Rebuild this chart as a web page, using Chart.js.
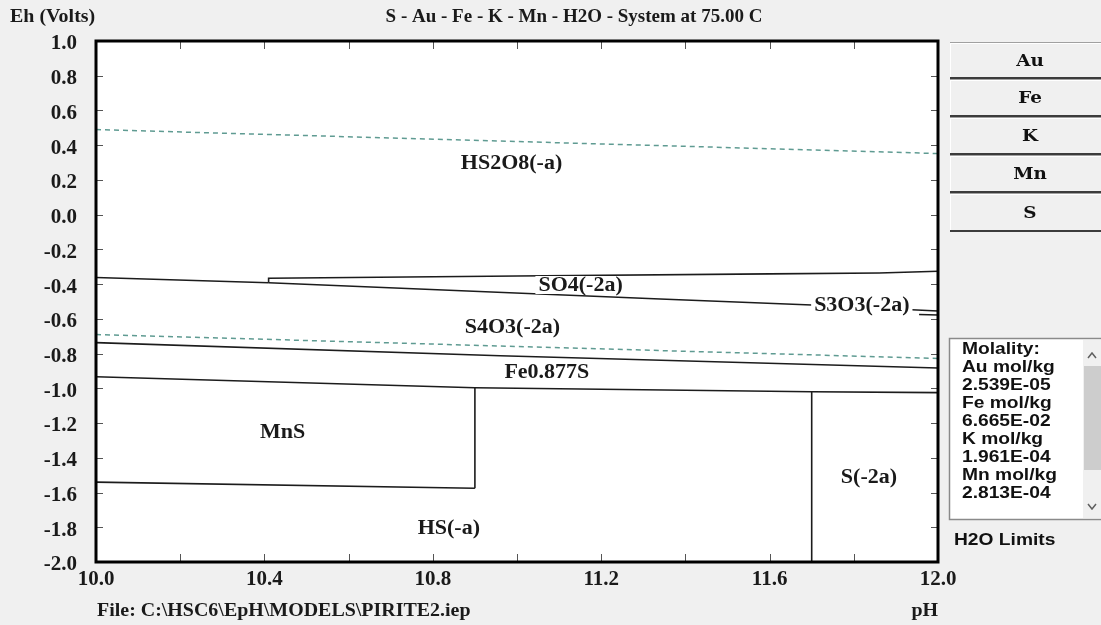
<!DOCTYPE html>
<html>
<head>
<meta charset="utf-8">
<title>S - Au - Fe - K - Mn - H2O - System at 75.00 C</title>
<script src="https://cdn.jsdelivr.net/npm/chart.js@4.4.1/dist/chart.umd.min.js"></script>
<style>
  html, body { margin: 0; padding: 0; background: #f0f0f0; }
  canvas { display: block; }
</style>
</head>
<body>
<canvas id="eph" width="1101" height="625"></canvas>
<script>
// ---- Diagram values (pH on x, Eh in volts on y) ----
const phMin = 10.0, phMax = 12.0;
const ehMin = -2.0, ehMax = 1.0;

// Water stability limits (dashed)
const waterUpperPH = [10.0, 12.0];
const waterUpperEh = [0.490, 0.352];
const waterLowerPH = [10.0, 12.0];
const waterLowerEh = [-0.690, -0.828];

// Predominance boundaries
const hs2o8LowerPH = [10.0, 10.41];
const hs2o8LowerEh = [-0.362, -0.392];
const so4UpperPH = [10.41, 10.41, 11.0, 11.6, 11.86, 12.0];
const so4UpperEh = [-0.392, -0.366, -0.353, -0.341, -0.336, -0.326];
const so4LowerPH = [10.41, 11.34, 11.70, 12.0];
const so4LowerEh = [-0.392, -0.486, -0.520, -0.555];
const s3o3LowerPH = [11.955, 12.0];
const s3o3LowerEh = [-0.575, -0.578];
const s4o3LowerPH = [10.0, 10.96, 12.0];
const s4o3LowerEh = [-0.737, -0.812, -0.883];
const fesLowerPH = [10.0, 10.9, 11.7, 12.0];
const fesLowerEh = [-0.933, -0.997, -1.020, -1.025];
const mnsRightPH = [10.9, 10.9];
const mnsRightEh = [-0.997, -1.575];
const mnsLowerPH = [10.0, 10.9];
const mnsLowerEh = [-1.540, -1.575];
const s2LeftPH = [11.7, 11.7];
const s2LeftEh = [-1.020, -2.0];

// Region labels
const regionNames = ['HS2O8(-a)', 'SO4(-2a)', 'S3O3(-2a)', 'S4O3(-2a)', 'Fe0.877S', 'MnS', 'HS(-a)', 'S(-2a)'];
const regionPH    = [10.987, 11.151, 11.819, 10.989, 11.071, 10.443, 10.838, 11.836];
const regionEh    = [0.300, -0.405, -0.520, -0.645, -0.906, -1.250, -1.806, -1.512];

// Side panel contents
const elementButtons = ['Au', 'Fe', 'K', 'Mn', 'S'];
const molalityLines = ['Molality:', 'Au mol/kg', '2.539E-05', 'Fe mol/kg', '6.665E-02',
                       'K mol/kg', '1.961E-04', 'Mn mol/kg', '2.813E-04'];

const titleText = 'S - Au - Fe - K - Mn - H2O - System at 75.00 C';
const yAxisTitle = 'Eh (Volts)';
const xAxisTitle = 'pH';
const fileText = 'File: C:\\HSC6\\EpH\\MODELS\\PIRITE2.iep';

// ---- helpers ----
const SERIF = "'Liberation Serif', 'Times New Roman', serif";
const SANS = "'Liberation Sans', Arial, sans-serif";

function pts(ph, eh) {
  return ph.map((x, i) => ({ x: x, y: eh[i] }));
}

function boundary(ph, eh) {
  return {
    data: pts(ph, eh), showLine: true, fill: false,
    borderColor: '#1c1c1c', borderWidth: 1.6, pointRadius: 0, tension: 0
  };
}

function waterLine(ph, eh) {
  return {
    data: pts(ph, eh), showLine: true, fill: false,
    borderColor: '#5f9b92', borderWidth: 1.5, borderDash: [5, 4], pointRadius: 0, tension: 0
  };
}

function wideText(ctx, text, x, y, sx, align) {
  ctx.save();
  ctx.translate(x, y);
  ctx.scale(sx, 1);
  ctx.textAlign = align;
  ctx.fillText(text, 0, 0);
  ctx.restore();
}

// Paints the window background and the white plotting field
const backdrop = {
  id: 'backdrop',
  beforeDraw(chart) {
    const { ctx, chartArea: a } = chart;
    ctx.save();
    ctx.fillStyle = '#f0f0f0';
    ctx.fillRect(0, 0, chart.width, chart.height);
    ctx.fillStyle = '#ffffff';
    ctx.fillRect(a.left, a.top, a.right - a.left, a.bottom - a.top);
    ctx.restore();
  }
};

// Region names on white knock-out boxes, then inward ticks and the frame
const decorations = {
  id: 'decorations',
  afterDatasetsDraw(chart) {
    const { ctx, chartArea: a, scales: { x, y } } = chart;
    ctx.save();
    ctx.font = 'bold 20px ' + SERIF;
    ctx.textBaseline = 'middle';
    const sx = 1.1;
    regionNames.forEach((name, i) => {
      const px = x.getPixelForValue(regionPH[i]);
      const py = y.getPixelForValue(regionEh[i]);
      const w = ctx.measureText(name).width * sx;
      ctx.fillStyle = '#ffffff';
      ctx.fillRect(px - w / 2 - 3, py - 9, w + 6, 18);
      ctx.fillStyle = '#1a1a1a';
      wideText(ctx, name, px, py + 1, sx, 'center');
    });

    // inward tick marks every 0.2 on all four sides
    ctx.strokeStyle = '#555555';
    ctx.lineWidth = 1;
    x.ticks.forEach(t => {
      const px = Math.round(x.getPixelForValue(t.value)) + 0.5;
      ctx.beginPath();
      ctx.moveTo(px, a.top); ctx.lineTo(px, a.top + 8);
      ctx.moveTo(px, a.bottom); ctx.lineTo(px, a.bottom - 8);
      ctx.stroke();
    });
    y.ticks.forEach(t => {
      const py = Math.round(y.getPixelForValue(t.value)) + 0.5;
      ctx.beginPath();
      ctx.moveTo(a.left, py); ctx.lineTo(a.left + 7, py);
      ctx.moveTo(a.right, py); ctx.lineTo(a.right - 7, py);
      ctx.stroke();
    });

    ctx.strokeStyle = '#000000';
    ctx.lineWidth = 3;
    ctx.strokeRect(a.left, a.top, a.right - a.left, a.bottom - a.top);
    ctx.restore();
  }
};

// Titles, file name and the element / molality side panel
const surroundings = {
  id: 'surroundings',
  afterDraw(chart) {
    const { ctx, chartArea: a } = chart;
    ctx.save();
    ctx.fillStyle = '#1a1a1a';
    ctx.textBaseline = 'middle';
    ctx.font = 'bold 19px ' + SERIF;
    wideText(ctx, yAxisTitle, 10, 17, 1.05, 'left');
    wideText(ctx, titleText, 574, 17, 1.0, 'center');
    wideText(ctx, fileText, 97, 611, 1.05, 'left');
    wideText(ctx, xAxisTitle, a.right, 611, 1.05, 'right');

    // element buttons
    const bx = 950, bw = chart.width - bx;
    const edges = [42, 79, 117, 155, 193, 232];
    for (let i = 0; i < elementButtons.length; i++) {
      const top = edges[i], bot = edges[i + 1];
      ctx.fillStyle = '#f0f0f0';
      ctx.fillRect(bx, top, bw, bot - top);
      ctx.fillStyle = '#ffffff';
      ctx.fillRect(bx, top + 1, bw, 1);
      ctx.fillRect(bx, top + 1, 1, bot - top - 2);
      ctx.fillStyle = '#a0a0a0';
      ctx.fillRect(bx, top, bw, 1);
      ctx.fillStyle = '#3c3c3c';
      ctx.fillRect(bx, bot - 2, bw, 2);
      ctx.fillStyle = '#111111';
      ctx.font = 'bold 17px ' + "'DejaVu Serif', serif";
      wideText(ctx, elementButtons[i], 1030, (top + bot) / 2 + 1, 1.08, 'center');
    }

    // molality list box with scroll bar
    const lx = 949, ly = 338, lw = chart.width - lx, lh = 182;
    ctx.fillStyle = '#ffffff';
    ctx.fillRect(lx, ly, lw, lh);
    ctx.strokeStyle = '#8a8a8a';
    ctx.lineWidth = 1.5;
    ctx.strokeRect(lx + 0.5, ly + 0.5, lw + 4, lh - 1);
    ctx.fillStyle = '#f0f0f0';
    ctx.fillRect(1083, ly + 2, 18, lh - 4);
    ctx.fillStyle = '#cdcdcd';
    ctx.fillRect(1084, 366, 17, 104);
    ctx.strokeStyle = '#606060';
    ctx.lineWidth = 1.5;
    ctx.beginPath();
    ctx.moveTo(1088, 358); ctx.lineTo(1092, 353); ctx.lineTo(1096, 358);
    ctx.moveTo(1088, 504); ctx.lineTo(1092, 509); ctx.lineTo(1096, 504);
    ctx.stroke();

    ctx.fillStyle = '#111111';
    ctx.font = 'bold 16px ' + SANS;
    molalityLines.forEach((line, i) => {
      wideText(ctx, line, 962, 350 + i * 18, 1.2, 'left');
    });
    wideText(ctx, 'H2O Limits', 954, 541, 1.2, 'left');
    ctx.restore();
  }
};

const tickFont = { family: SERIF, size: 21, weight: 'bold' };

new Chart(document.getElementById('eph'), {
  type: 'scatter',
  data: {
    datasets: [
      waterLine(waterUpperPH, waterUpperEh),
      waterLine(waterLowerPH, waterLowerEh),
      boundary(hs2o8LowerPH, hs2o8LowerEh),
      boundary(so4UpperPH, so4UpperEh),
      boundary(so4LowerPH, so4LowerEh),
      boundary(s3o3LowerPH, s3o3LowerEh),
      boundary(s4o3LowerPH, s4o3LowerEh),
      boundary(fesLowerPH, fesLowerEh),
      boundary(mnsRightPH, mnsRightEh),
      boundary(mnsLowerPH, mnsLowerEh),
      boundary(s2LeftPH, s2LeftEh)
    ]
  },
  options: {
    responsive: false,
    animation: false,
    devicePixelRatio: 1,
    layout: { padding: { left: 0, top: 41, right: 163, bottom: 0 } },
    plugins: { legend: { display: false }, tooltip: { enabled: false } },
    scales: {
      x: {
        type: 'linear', min: phMin, max: phMax,
        grid: { display: false, drawTicks: false },
        border: { display: false },
        afterFit: s => { s.height = 63; },
        ticks: {
          stepSize: 0.2, autoSkip: false, maxRotation: 0, padding: 5,
          color: '#1a1a1a', font: tickFont,
          callback: v => (Math.round(v * 10) % 4 === 0 ? v.toFixed(1) : '')
        }
      },
      y: {
        type: 'linear', min: ehMin, max: ehMax,
        grid: { display: false, drawTicks: false },
        border: { display: false },
        afterFit: s => { s.width = 96; },
        ticks: {
          stepSize: 0.2, autoSkip: false, padding: 19, labelOffset: 3,
          color: '#1a1a1a', font: tickFont,
          callback: v => (Math.abs(v) < 1e-9 ? '0.0' : v.toFixed(1))
        }
      }
    }
  },
  plugins: [backdrop, decorations, surroundings]
});
</script>
</body>
</html>
